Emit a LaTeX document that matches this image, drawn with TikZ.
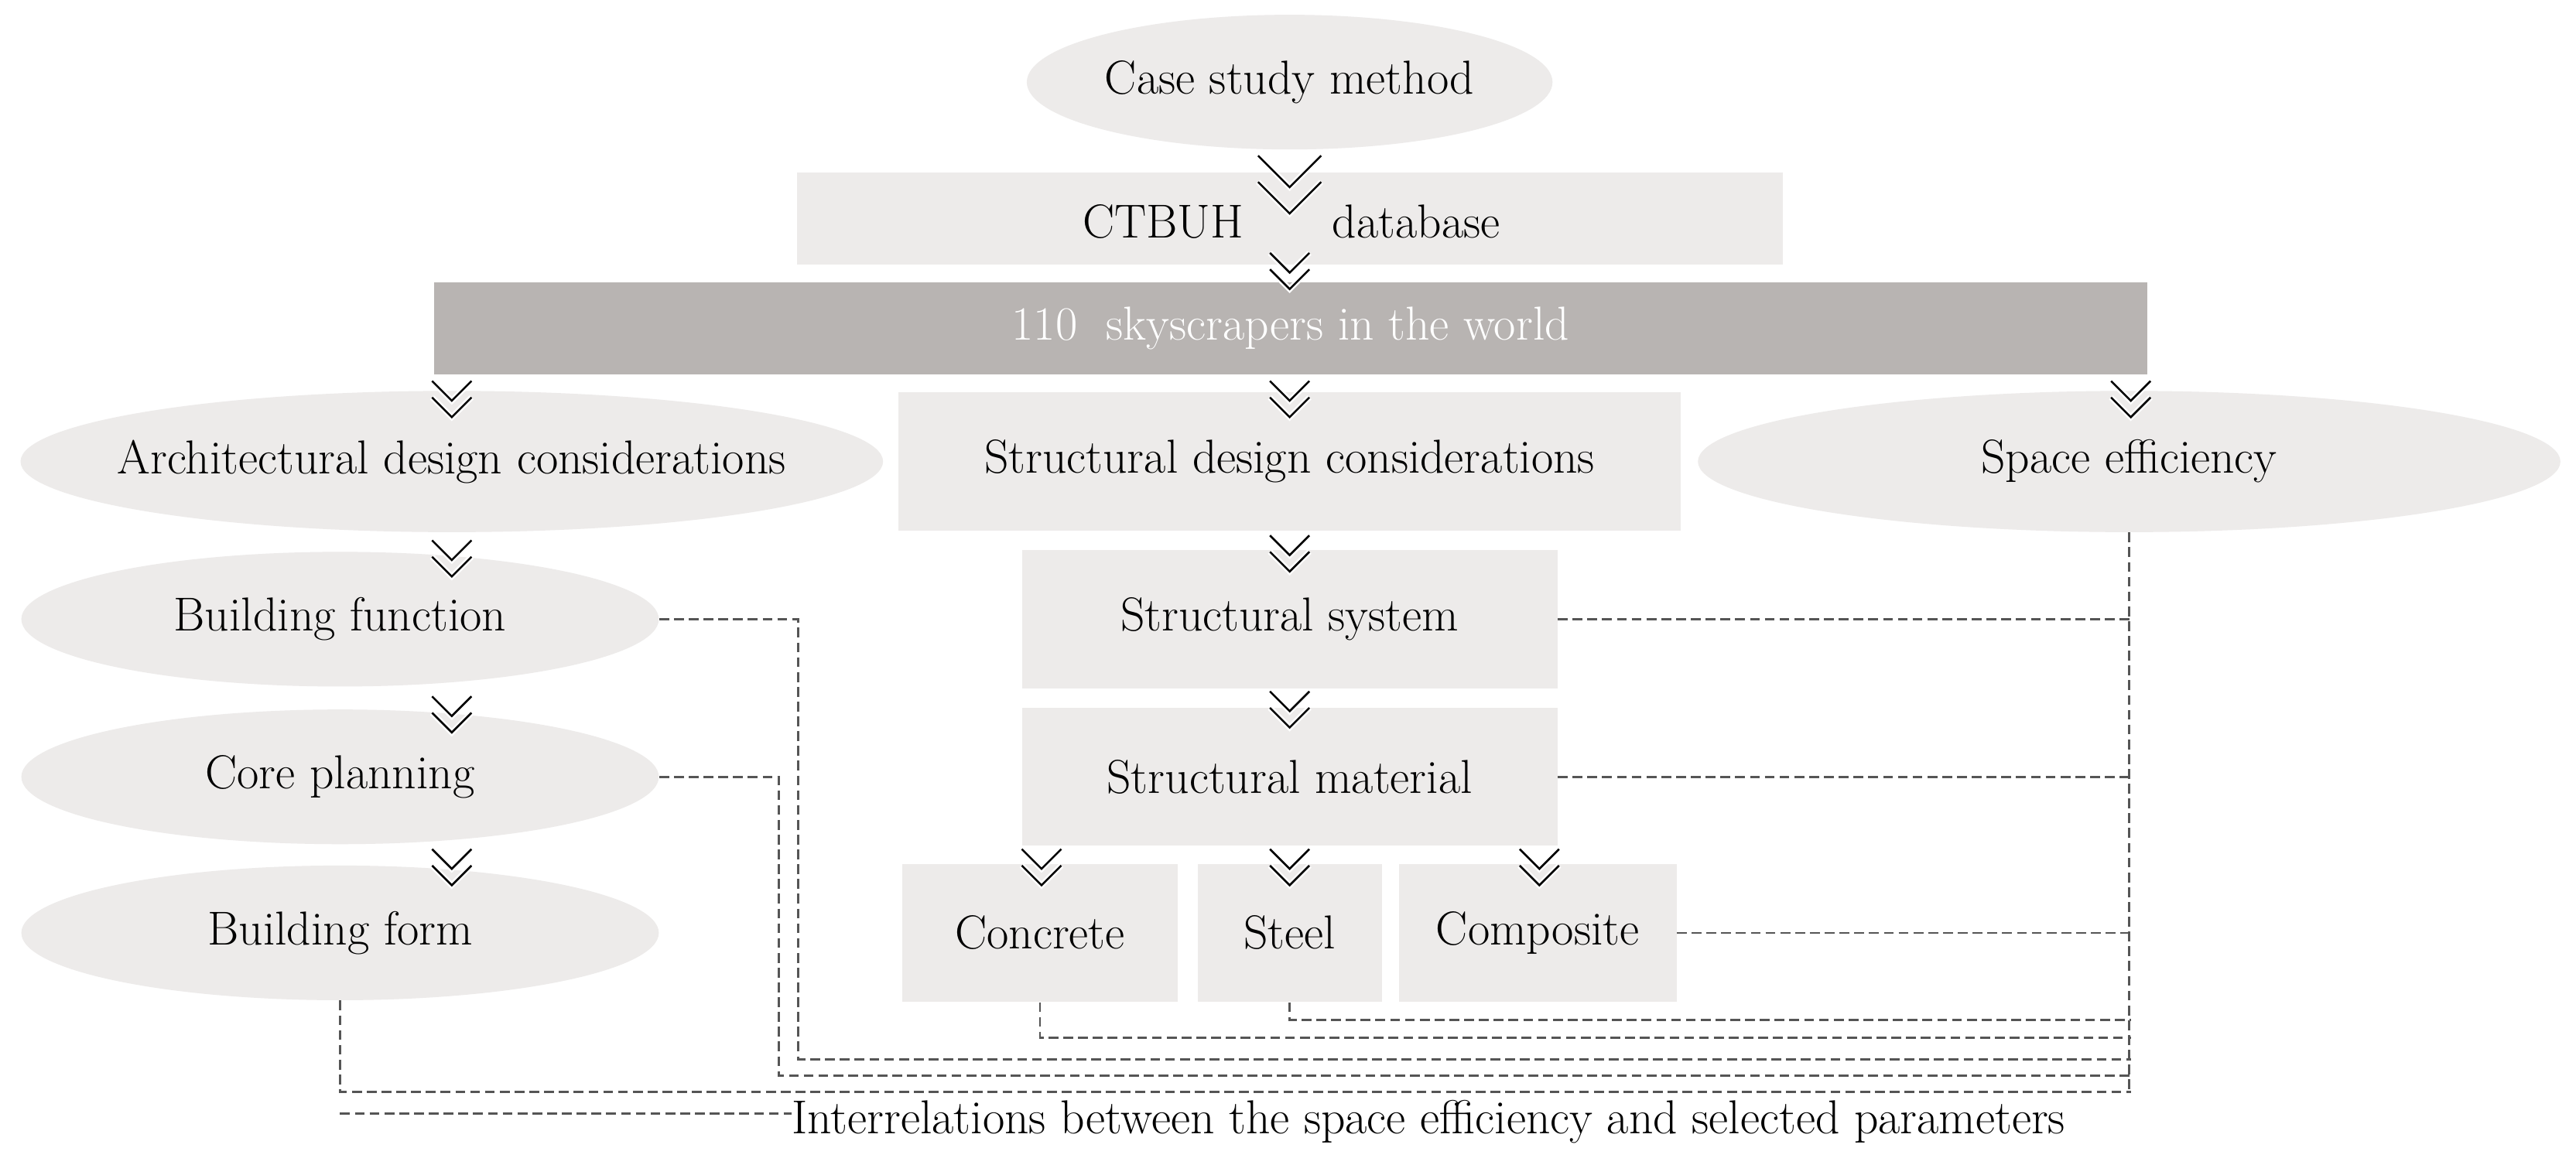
\documentclass[tikz,border=0pt]{standalone}
\usepackage{tikz}
\usetikzlibrary{shapes.geometric}
\definecolor{boxgray}{HTML}{EDEBEA}
\definecolor{bargray}{HTML}{B8B4B2}
\definecolor{dashgray}{HTML}{555555}
\tikzset{
  lbl/.style={font=\fontsize{29}{34}\selectfont, inner sep=0pt},
  box/.style={lbl, rectangle, fill=boxgray},
  oval/.style={lbl, ellipse, fill=boxgray},
  rel/.style={draw=dashgray, line width=1.3pt, dash pattern=on 6pt off 3pt},
  chev/.pic={
    \draw[white, line width=3.5pt] (-12,-22)--(0,-10)--(12,-22) (-12,-12)--(0,0)--(12,-12);
    \draw[black, line width=1.2pt] (-12,-22)--(0,-10)--(12,-22) (-12,-12)--(0,0)--(12,-12);
  }
}
\begin{document}
\begin{tikzpicture}[x=1pt,y=-1pt]
    \useasboundingbox[fill=white] (0,0) rectangle (1568,709);

    % Top
    \node[oval, minimum width=320pt, minimum height=82pt] (case) at (785,50) {Case study method};
    \node[box, minimum width=600pt, minimum height=56pt] (db) at (785,133) {};
    \node[lbl] (ctbuh) at (708,135) {CTBUH};
    \node[lbl] (dbt) at (862,135) {database};
    \node[rectangle, fill=bargray, minimum width=1043pt, minimum height=56pt, inner sep=0pt,
          font=\fontsize{29}{34}\selectfont, text=white] (world) at (785.5,200) {110\ \ skyscrapers in the world};

    % Second row
    \node[oval, inner xsep=-20pt, minimum width=525pt, minimum height=86pt] (arch) at (275,281) {Architectural design considerations};
    \node[box, minimum width=476pt, minimum height=84pt] (struct) at (785,281) {Structural design considerations};
    \node[oval, minimum width=525pt, minimum height=86pt] (space) at (1296,281) {Space efficiency};

    % Architectural branch
    \node[oval, minimum width=388pt, minimum height=82pt] (func) at (207,377) {Building function};
    \node[oval, minimum width=388pt, minimum height=82pt] (core) at (207,473) {Core planning};
    \node[oval, minimum width=388pt, minimum height=82pt] (form) at (207,568) {Building form};

    % Structural branch
    \node[box, minimum width=326pt, minimum height=84pt] (sys) at (785,377) {Structural system};
    \node[box, minimum width=326pt, minimum height=84pt] (mat) at (785,473) {Structural material};
    \node[box, minimum width=168pt, minimum height=84pt] (conc) at (633,568) {Concrete};
    \node[box, minimum width=112pt, minimum height=84pt] (steel) at (785,568) {Steel};
    \node[box, minimum width=169pt, minimum height=84pt] (comp) at (936,568) {Composite};

    % Chevrons
    \pic[scale=1.6] at (785,130) {chev};
    \foreach \cx/\cy in {785/176, 275/254, 785/254, 1297/254, 275/351, 785/348,
                         275/446, 785/443, 275/539, 634/539, 785/539, 937/539}
        \pic at (\cx,\cy) {chev};

    % Interrelations
    \coordinate (rx) at (1297,0);
    \draw[rel] (space.south) -- (space.south |- 0,665);
    \draw[rel] (func.east) -| (486,645) -- (rx |- 0,645);
    \draw[rel] (core.east) -| (474,655) -- (rx |- 0,655);
    \draw[rel] (form.south) |- (rx |- 0,665);
    \draw[rel] (sys.east) -- (rx |- sys.east);
    \draw[rel] (mat.east) -- (rx |- mat.east);
    \draw[rel] (comp.east) -- (rx |- comp.east);
    \draw[rel] (conc.south) |- (rx |- 0,632);
    \draw[rel] (steel.south) |- (rx |- 0,621);

    % Legend
    \node[lbl, anchor=west] (legend) at (482,683) {Interrelations between the space efficiency and selected parameters};
    \coordinate (legstart) at (207,678);
    \draw[rel] (legstart) -- (legstart -| legend.west);
\end{tikzpicture}
\end{document}
